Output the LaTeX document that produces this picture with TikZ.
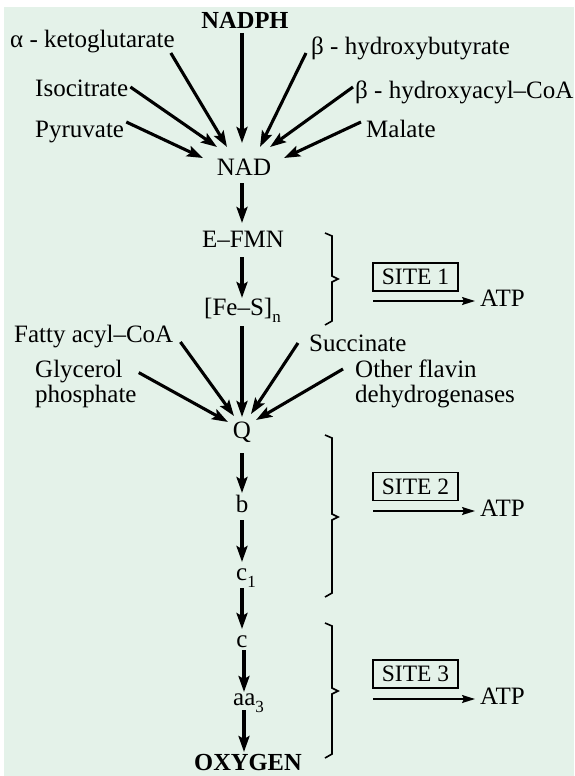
\documentclass[tikz,border=0pt]{standalone}
\usepackage{fontspec}
\setmainfont{Liberation Serif}
\usetikzlibrary{arrows.meta,calc}
\definecolor{bgmint}{RGB}{228,242,233}
\tikzset{
  lbl/.style={inner sep=0pt, font=\fontsize{25}{25}\selectfont},
  blbl/.style={inner sep=0pt, font=\fontsize{24.5}{25}\selectfont\bfseries},
  arr/.style={line width=3.1pt, -{Stealth[length=16pt,width=11pt,inset=3pt]}},
  thinarr/.style={line width=1.5pt, -{Stealth[length=13pt,width=8pt,inset=2pt]}},
  sitebox/.style={draw, line width=1.5pt, minimum width=85pt, minimum height=28pt, inner sep=0pt, font=\fontsize{23.5}{24}\selectfont},
  brc/.style={line width=1.6pt, line join=miter}
}
\newcommand{\subsc}[1]{\raisebox{-0.3em}{\fontsize{17}{17}\selectfont #1}}
\begin{document}
\begin{tikzpicture}[x=1pt,y=-1pt]
\useasboundingbox (0,0) rectangle (574,776);
\fill[bgmint] (4,7) rectangle (574,776);

% top sources
\node[blbl, anchor=base] (nadph) at (245,29) {NADPH};
\node[lbl, anchor=base west] (akg) at (10,48) {α - ketoglutarate};
\node[lbl, anchor=base west] (hbut) at (311,55) {β - hydroxybutyrate};
\node[lbl, anchor=base west] (iso) at (35,96) {Isocitrate};
\node[lbl, anchor=base west] (hacyl) at (355,99) {β - hydroxyacyl–CoA};
\node[lbl, anchor=base west] (pyr) at (35,137) {Pyruvate};
\node[lbl, anchor=base west] (mal) at (366,137) {Malate};
\node[lbl, anchor=base] (nad) at (244,175) {NAD};

% chain
\node[lbl, anchor=base] (efmn) at (243,247) {E–FMN};
\node[lbl, anchor=base west] (fes) at (204,315) {[Fe–S]\subsc{n}};
\node[lbl, anchor=base west] (fatty) at (14,342) {Fatty acyl–CoA};
\node[lbl, anchor=west, align=left] (glyc) at (35,383.6) {Glycerol\\phosphate};
\node[lbl, anchor=base west] (succ) at (309,351) {Succinate};
\node[lbl, anchor=west, align=left] (other) at (355,384) {Other flavin\\dehydrogenases};
\node[lbl, anchor=base] (q) at (242,438) {Q};
\node[lbl, anchor=base] (b) at (242,512) {b};
\node[lbl, anchor=base west] (c1) at (236,580) {c\subsc{1}};
\node[lbl, anchor=base] (c) at (242,647) {c};
\node[lbl, anchor=base west] (aa3) at (233,705) {aa\subsc{3}};
\node[blbl, anchor=base] (oxy) at (248,770) {OXYGEN};

% arrows into NAD
\draw[arr] ($(nadph.base)+(-3,4)$) -- ($(nad.base)+(-2,-32)$);
\draw[arr] ($(akg.base east)+(-4,5)$) -- ($(nad.base)+(-17,-28)$);
\draw[arr] ($(iso.base east)+(2,-9)$) -- ($(nad.base)+(-27,-28)$);
\draw[arr] ($(pyr.base east)+(2,-15)$) -- ($(nad.base)+(-41,-17)$);
\draw[arr] ($(hbut.base west)+(-5,-2)$) -- ($(nad.base)+(16,-28)$);
\draw[arr] ($(hacyl.base west)+(-2,-12)$) -- ($(nad.base)+(26,-28)$);
\draw[arr] ($(mal.base west)+(-5,-15)$) -- ($(nad.base)+(40,-17)$);

% chain arrows
\draw[arr] ($(nad.base)+(-2,8)$) -- ($(efmn.base)+(-1,-24)$);
\draw[arr] ($(efmn.base)+(-1,10)$) -- ($(fes.base west)+(38,-17)$);
\draw[arr] ($(fes.base west)+(38,11)$) -- ($(q.base)+(0,-21)$);

% arrows into Q
\draw[arr] ($(fatty.base east)+(7,0)$) -- ($(q.base)+(-8,-22)$);
\draw[arr] ($(glyc.east)+(2,-11)$) -- ($(q.base)+(-14,-16)$);
\draw[arr] ($(succ.base west)+(-11,-8)$) -- ($(q.base)+(9,-24)$);
\draw[arr] ($(other.west)+(-12,-15)$) -- ($(q.base)+(14,-18)$);

\draw[arr] ($(q.base)+(0,15)$) -- ($(b.base)+(0,-19)$);
\draw[arr] ($(b.base)+(0,8)$) -- ($(c1.base west)+(6,-18)$);
\draw[arr] ($(c1.base west)+(6,8)$) -- ($(c.base)+(0,-18)$);
\draw[arr] ($(c.base)+(2,3)$) -- ($(aa3.base west)+(11,-13)$);
\draw[arr] ($(aa3.base west)+(11,5)$) -- ($(oxy.base)+(-4,-18)$);

% braces
\draw[brc] (325,233) -- (332,236) -- (332,276) -- (338,279) -- (332,282) -- (332,321) -- (325,325);
\draw[brc] (325,435) -- (332,438) -- (332,514) -- (338,517) -- (332,520) -- (332,593) -- (325,597);
\draw[brc] (325,623) -- (332,626) -- (332,688) -- (338,691) -- (332,694) -- (332,754) -- (325,758);

% sites
\node[sitebox] (site1) at (415.5,277) {SITE 1};
\node[sitebox] (site2) at (415.5,486.5) {SITE 2};
\node[sitebox] (site3) at (415.5,674) {SITE 3};
\node[lbl, anchor=base west, inner xsep=5pt] (atp1) at (475,306) {ATP};
\node[lbl, anchor=base west, inner xsep=5pt] (atp2) at (475,516) {ATP};
\node[lbl, anchor=base west, inner xsep=5pt] (atp3) at (475,704) {ATP};
\coordinate (s1a) at (373,301);
\coordinate (s2a) at (373,511);
\coordinate (s3a) at (373,699);
\draw[thinarr] (s1a) -- (s1a -| atp1.west);
\draw[thinarr] (s2a) -- (s2a -| atp2.west);
\draw[thinarr] (s3a) -- (s3a -| atp3.west);
\end{tikzpicture}
\end{document}
